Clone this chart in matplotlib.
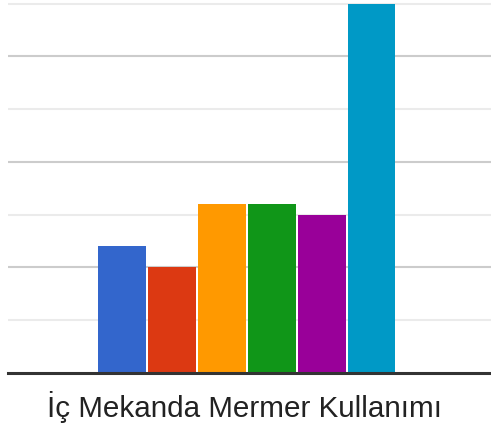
import matplotlib
matplotlib.use("Agg")
import matplotlib.pyplot as plt
import numpy as np

# Data
series = ["A", "B", "C", "D", "E", "F"]
values = [12, 10, 16, 16, 15, 35]
colors = ["#3366cc", "#dc3912", "#ff9900", "#109618", "#990099", "#0099c6"]
major_ticks = [10, 20, 30]
minor_ticks = [5, 15, 25, 35]
xlabel = "İç Mekanda Mermer Kullanımı"

plt.rcParams['font.family'] = ['Liberation Sans', 'DejaVu Sans']

fig = plt.figure(figsize=(4.91, 4.32), dpi=100)
W, H = 491, 432
left_px, right_px = 8, 491
bottom_px = 372.7
ax = fig.add_axes([left_px / W, (H - bottom_px) / H, (right_px - left_px) / W, bottom_px / H])

x = np.arange(len(values))
ax.bar(x, values, width=0.955, color=colors, zorder=3)

ax.set_xlim(-2.28, 7.39)
ax.set_ylim(0, 35.36)

for t in major_ticks:
    ax.axhline(t, color="#cccccc", linewidth=1.5, zorder=1)
for t in minor_ticks:
    ax.axhline(t, color="#ebebeb", linewidth=1.5, zorder=1)
ax.axhline(0, color="#333333", linewidth=2.2, zorder=4, clip_on=False)

for s in ax.spines.values():
    s.set_visible(False)
ax.set_xticks([])
ax.set_yticks([])
ax.patch.set_alpha(0)

fig.text(244.5 / W, 1 - 417 / H, xlabel, ha="center", va="baseline",
         fontsize=21.3, color="#222222")

fig.savefig("out.png", dpi=100)
